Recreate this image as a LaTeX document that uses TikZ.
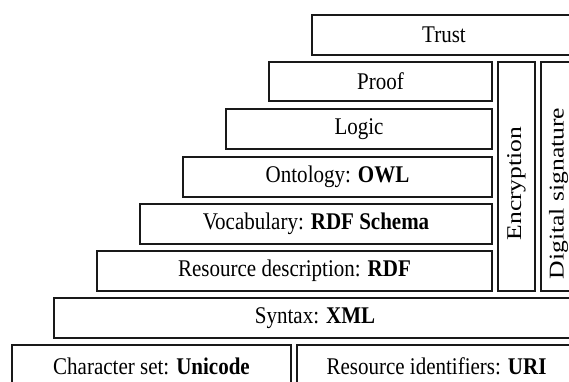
\documentclass[tikz,border=0pt]{standalone}
\usepackage{fontspec}
\setmainfont{Liberation Serif}
\usepackage{graphicx}
\usepackage{tikz}
\usetikzlibrary{positioning}
\tikzset{
  layer/.style={%
    draw=black!90,
    rectangle,
    line width=2.8pt,
    inner sep=0,
    font=\fontsize{21}{24}\selectfont,
  }
}
\newcommand\Layer[6]{% name, left, top, right, bottom, text
  \node (#1) [layer,minimum width=#4-#2,minimum height=#5-#3]
    at ({(#2+#4)/2},{(#3+#5)/2}) {\scalebox{1}[1.14]{#6}};
}
\newcommand\VLayer[7]{% same, text turned upwards and moved down by #7
  \node (#1) [layer,rotate=90,minimum width=#5-#3,minimum height=#4-#2]
    at ({(#2+#4)/2},{(#3+#5)/2}) {\scalebox{1.22}[1]{#6}\hspace*{#7}};
}

\begin{document}
\begin{tikzpicture}[x=1pt,y=-1pt]
    \useasboundingbox (0,0) rectangle (569,382);
    \clip (0,0) rectangle (569,382);
    \Layer{trust}{312}{15}{576}{55}{Trust}
    \Layer{proof}{269}{62}{492}{101}{Proof}
    \Layer{logic}{226}{109}{492}{149}{Logic}
    \Layer{ontology}{183}{157}{492}{197}{Ontology: \textbf{OWL}}
    \Layer{vocab}{140}{204}{492}{244}{Vocabulary: \textbf{RDF Schema}}
    \Layer{rdf}{97}{251}{492}{291}{Resource description: \textbf{RDF}}
    \VLayer{encrypt}{498}{62}{535}{291}{Encryption}{14pt}
    \VLayer{signature}{541}{62}{576}{291}{Digital signature}{34pt}
    \Layer{syntax}{54}{298}{576}{338}{Syntax: \textbf{XML}}
    \Layer{charset}{12}{345}{291}{388}{Character set: \textbf{Unicode}}
    \Layer{uri}{297}{345}{576}{388}{Resource identifiers: \textbf{URI}}
\end{tikzpicture}
\end{document}
